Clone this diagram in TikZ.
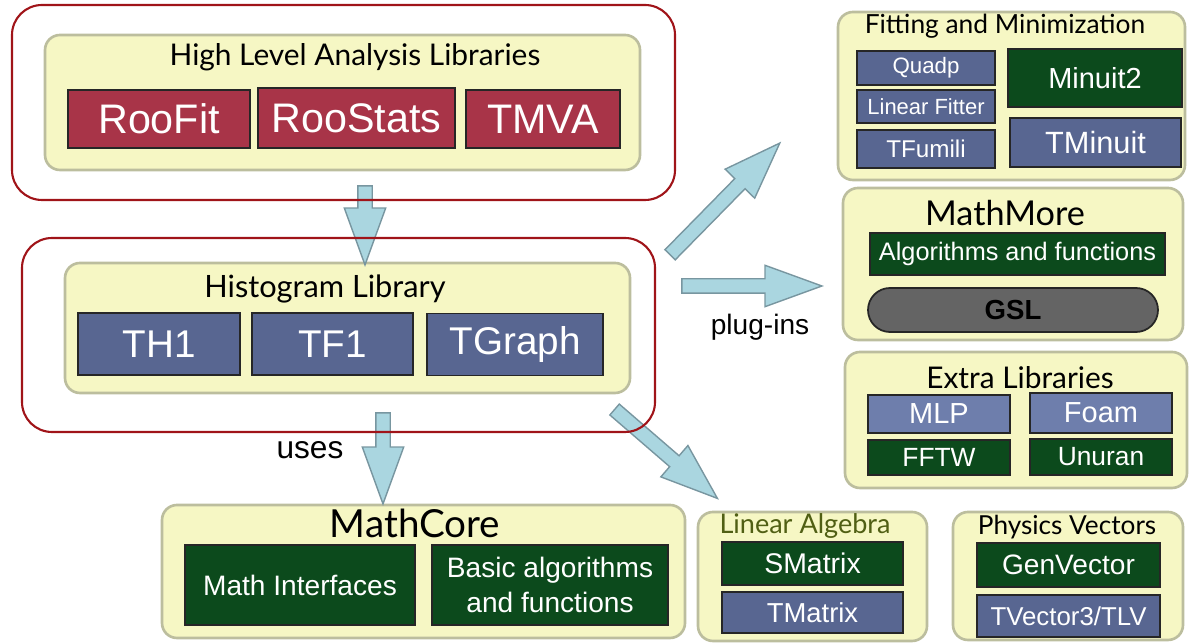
\documentclass[tikz,border=0pt]{standalone}
\usepackage{fontspec}
\setmainfont{Liberation Sans}
\newfontfamily\titlefont{Lato}
\usetikzlibrary{shapes.arrows, calc}
\definecolor{panel}{RGB}{246,247,196}
\definecolor{panelline}{RGB}{188,190,158}
\definecolor{frame}{RGB}{160,20,25}
\definecolor{roo}{RGB}{168,52,72}
\definecolor{slate}{RGB}{88,102,145}
\definecolor{slatelight}{RGB}{110,126,172}
\definecolor{forest}{RGB}{12,74,28}
\definecolor{gslgray}{RGB}{100,100,100}
\definecolor{pipe}{RGB}{170,214,224}
\definecolor{pipeline}{RGB}{120,150,160}
\definecolor{olive}{RGB}{80,95,20}

\begin{document}
\begin{tikzpicture}[x=0.02cm, y=-0.02cm,
    sz/.style 2 args={minimum width=#1*0.02cm, minimum height=#2*0.02cm},
    frame/.style={draw=frame, line width=1.2pt, rounded corners=0.6cm},
    panel/.style={draw=panelline, fill=panel, line width=1.5pt, rounded corners=0.3cm},
    item/.style={draw=black!85, line width=1pt, text=white, inner sep=0pt, align=center, font=\fontsize{#1}{#1}\selectfont},
    head/.style={inner sep=0pt, font=\titlefont\fontsize{#1}{#1}\selectfont},
    pipearrow/.style={single arrow, draw=pipeline, fill=pipe, line width=0.8pt, inner xsep=0pt, inner ysep=0.13cm, single arrow head extend=0.27cm, single arrow tip angle=40}]

    \useasboundingbox (0,0) rectangle (1190,644);

    % high level analysis
    \node[panel, sz={595}{135}] (hlal) at (342.5,102.5) {};
    \node[head=17] (hlal-title) at (355,57) {High Level Analysis Libraries};
    \node[item=23.5, fill=roo, sz={182}{58}] (roofit) at (159,119) {RooFit};
    \node[item=23.5, fill=roo, sz={197}{60}] (roostats) at (356.5,118) {RooStats};
    \node[item=23.5, fill=roo, sz={154}{58}] (tmva) at (543,119) {TMVA};

    % histogram library
    \node[panel, sz={565}{130}] (hist) at (347.5,328) {};
    \node[head=17.5] (hist-title) at (325,289) {Histogram Library};
    \node[item=22, fill=slate, sz={162}{62}] (th1) at (159,344) {TH1};
    \node[item=22, fill=slate, sz={161}{62}] (tf1) at (332.5,344) {TF1};
    \node[item=22, fill=slate, sz={176}{62}] (tgraph) at (515,344.5) {TGraph};

    % fitting and minimization
    \node[panel, sz={347}{168}] (fit) at (1011.5,96) {};
    \node[head=15] (fit-title) at (1005,26) {Fitting and Minimization};
    \node[item=12.7, fill=slate, sz={138}{34}] (quadp) at (926,68) {Quadp};
    \node[item=12.5, fill=slate, sz={138}{33}] (linfit) at (926,106.5) {Linear Fitter};
    \node[item=13.8, fill=slate, sz={138}{38}] (tfumili) at (926,149) {TFumili};
    \node[item=16.5, fill=forest, sz={174}{58}] (minuit2) at (1095,78) {Minuit2};
    \node[item=17.5, fill=slate, sz={171}{49}] (tminuit) at (1095.5,142.5) {TMinuit};

    % mathmore
    \node[panel, sz={340}{152}] (more) at (1013,264) {};
    \node[head=19.5] (more-title) at (1005,213) {MathMore};
    \node[item=14.4, fill=forest, sz={295}{42}] (algo) at (1017.5,254) {Algorithms and functions};
    \node[draw=black!85, line width=1pt, fill=gslgray, rounded corners=0.44cm, sz={290}{44}, inner sep=0pt, font=\bfseries\fontsize{15.7}{15.7}\selectfont] (gsl) at (1013,310) {GSL};

    % extra libraries
    \node[panel, sz={342}{136}] (extra) at (1016,420) {};
    \node[head=17] (extra-title) at (1020,378) {Extra Libraries};
    \node[item=16.5, fill=slatelight, sz={142}{38}] (mlp) at (939,414) {MLP};
    \node[item=16.5, fill=slatelight, sz={142}{40}] (foam) at (1101,413) {Foam};
    \node[item=15, fill=forest, sz={142}{35}] (fftw) at (939,457.5) {FFTW};
    \node[item=15, fill=forest, sz={142}{36}] (unuran) at (1101,457) {Unuran};

    % mathcore
    \node[panel, sz={523}{133}] (core) at (423.5,571.5) {};
    \node[head=22] (core-title) at (415,523) {MathCore};
    \node[item=16, fill=forest, sz={230}{80}] (mathif) at (300,585) {Math Interfaces};
    \node[item=16, fill=forest, sz={236}{80}, font=\fontsize{16}{19.5}\selectfont] (basic) at (550,585) {Basic algorithms\\and functions};

    % linear algebra
    \node[panel, sz={229}{129}] (linalg) at (812.5,576.5) {};
    \node[head=15.4, text=olive] (linalg-title) at (805,526) {Linear Algebra};
    \node[item=16.2, fill=forest, sz={181}{43}] (smatrix) at (812.5,563.5) {SMatrix};
    \node[item=15.6, fill=slate, sz={181}{41}] (tmatrix) at (812.5,612.5) {TMatrix};

    % physics vectors
    \node[panel, sz={230}{128}] (phys) at (1068,576) {};
    \node[head=14.9] (phys-title) at (1067,527) {Physics Vectors};
    \node[item=16, fill=forest, sz={183}{44}] (genvec) at (1068.5,565) {GenVector};
    \node[item=14.7, fill=slate, sz={183}{42}] (tvec) at (1068.5,616) {TVector3/TLV};

    % arrows
    \coordinate (hl-s) at (365,176);   \coordinate (hl-t) at (365,255);
    \coordinate (use-s) at (383,403);  \coordinate (use-t) at (383,494);
    \coordinate (fit-s) at (663,262);  \coordinate (fit-t) at (773,150);
    \coordinate (more-s) at (672,286); \coordinate (more-t) at (812,286);
    \coordinate (lin-s) at (607,403);  \coordinate (lin-t) at (710,492);
    \foreach \s/\t in {hl-s/hl-t, use-s/use-t, fit-s/fit-t, more-s/more-t, lin-s/lin-t}
        \path let \p1=($(\t)-(\s)$), \n1={veclen(\x1,\y1)}, \n2={atan2(\y1,\x1)} in
            node[pipearrow, minimum height=\n1, rotate=\n2] at ($(\s)!0.5!(\t)$) {};

    \node[font=\fontsize{18}{18}\selectfont, inner sep=0pt] (uses) at (310,450) {uses};
    \node[font=\fontsize{16}{16}\selectfont, inner sep=0pt] (plugins) at (760,327) {plug-ins};

    % red frames
    \node[frame, sz={663}{195}] (top-frame) at (343.5,102.5) {};
    \node[frame, sz={633}{194}] (mid-frame) at (338.5,335) {};

\end{tikzpicture}
\end{document}
